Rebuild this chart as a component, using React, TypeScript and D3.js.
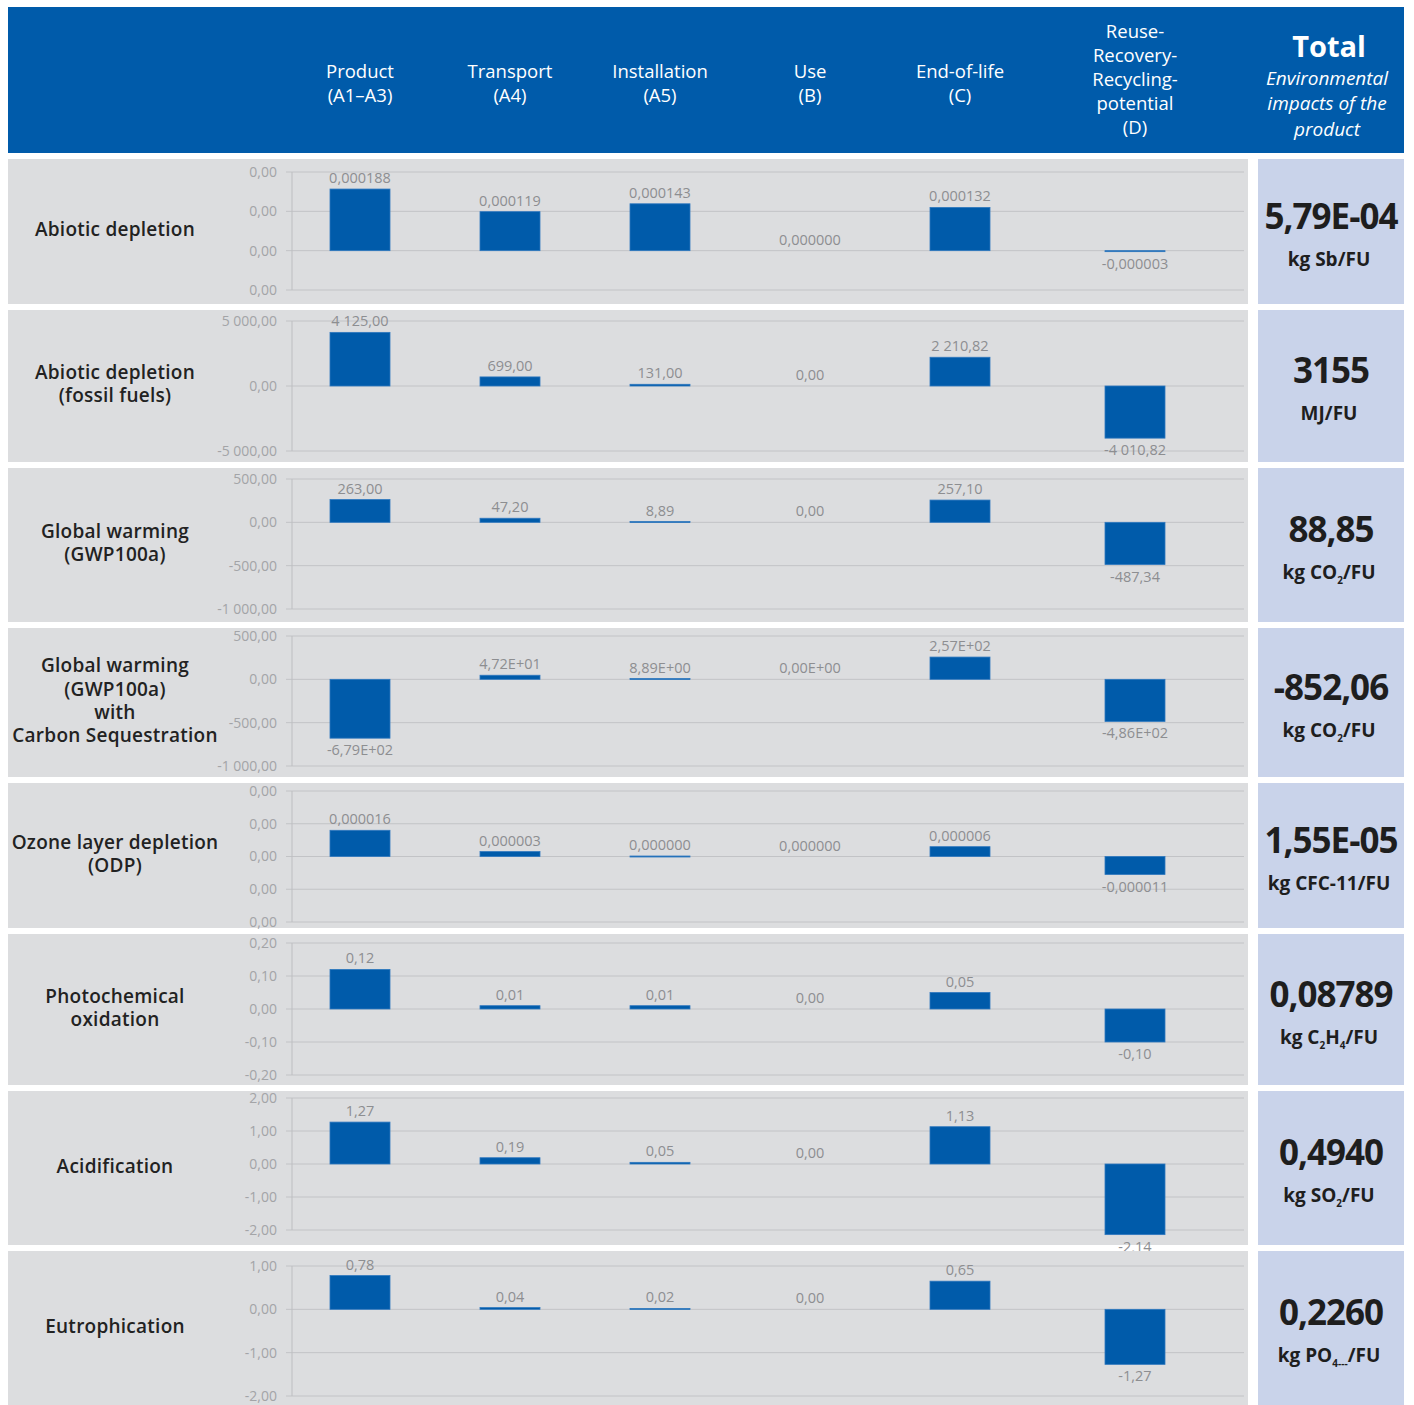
import React from "react";
import * as d3 from "d3";

// stages (columns) and impact indicators (rows)
const stageHeaders = [
  ["Product", "(A1–A3)"],
  ["Transport", "(A4)"],
  ["Installation", "(A5)"],
  ["Use", "(B)"],
  ["End-of-life", "(C)"],
  ["Reuse-", "Recovery-", "Recycling-", "potential", "(D)"],
];
const indicators = [
  ["Abiotic depletion"],
  ["Abiotic depletion", "(fossil fuels)"],
  ["Global warming", "(GWP100a)"],
  ["Global warming", "(GWP100a)", "with", "Carbon Sequestration"],
  ["Ozone layer depletion", "(ODP)"],
  ["Photochemical", "oxidation"],
  ["Acidification"],
  ["Eutrophication"],
];

const abioticValues = [0.000188, 0.000119, 0.000143, 0, 0.000132, -0.000003];
const fossilValues = [4125, 699, 131, 0, 2210.82, -4010.82];
const gwpValues = [263, 47.2, 8.89, 0, 257.1, -487.34];
const gwpSeqValues = [-679, 47.2, 8.89, 0, 257, -486];
const odpValues = [0.000016, 0.000003, 0.0000003, 0, 0.000006, -0.000011];
const pocpValues = [0.12, 0.01, 0.01, 0, 0.05, -0.1];
const apValues = [1.27, 0.19, 0.05, 0, 1.13, -2.14];
const epValues = [0.78, 0.04, 0.02, 0, 0.65, -1.27];

const abioticTicks = [0.00024, 0.00012, 0, -0.00012];
const fossilTicks = [5000, 0, -5000];
const gwpTicks = [500, 0, -500, -1000];
const gwpSeqTicks = [500, 0, -500, -1000];
const odpTicks = [0.00004, 0.00002, 0, -0.00002, -0.00004];
const pocpTicks = [0.2, 0.1, 0, -0.1, -0.2];
const apTicks = [2, 1, 0, -1, -2];
const epTicks = [1, 0, -1, -2];

const labelKinds = ["fixed6", "fixed2", "fixed2", "exp", "fixed6", "fixed2", "fixed2", "fixed2"];

const totals = ["5,79E-04", "3155", "88,85", "-852,06", "1,55E-05", "0,08789", "0,4940", "0,2260"];
// unit pieces: [text, subscript]
const units = [
  [["kg Sb/FU", ""]],
  [["MJ/FU", ""]],
  [["kg CO", "2"], ["/FU", ""]],
  [["kg CO", "2"], ["/FU", ""]],
  [["kg CFC-11/FU", ""]],
  [["kg C", "2"], ["H", "4"], ["/FU", ""]],
  [["kg SO", "2"], ["/FU", ""]],
  [["kg PO", "4---"], ["/FU", ""]],
];

const rowValues = [abioticValues, fossilValues, gwpValues, gwpSeqValues, odpValues, pocpValues, apValues, epValues];
const rowTicks = [abioticTicks, fossilTicks, gwpTicks, gwpSeqTicks, odpTicks, pocpTicks, apTicks, epTicks];

// layout
const rowTop = [159, 310, 468, 628, 783, 934, 1091, 1251];
const rowBottom = [304, 462, 622, 777, 928, 1085, 1245, 1405];
const axisTop = [172, 321, 479, 636, 791, 943, 1098, 1266];
const axisBottom = [290, 451, 609, 766, 922, 1075, 1230, 1396];
const colWeights = [1, 1, 1, 1, 1, 4 / 3];

const BLUE = "#005BAA";
const FONT = "'Open Sans', 'Noto Sans', sans-serif";

const locale = d3.formatLocale({
  decimal: ",",
  thousands: " ",
  grouping: [3],
  currency: ["", ""],
  minus: "-",
});
const f2 = locale.format(",.2f");
const f6 = locale.format(".6f");
const fexp = (v: number) => {
  const [m, e] = v.toExponential(2).split("e");
  const n = Math.abs(+e);
  return m.replace(".", ",") + "E" + (+e < 0 ? "-" : "+") + String(n).padStart(2, "0");
};
const fmt = (kind: string, v: number) => (kind === "fixed6" ? f6(v) : kind === "exp" ? fexp(v) : f2(v));

export default function App() {
  const cum = d3.cumsum(colWeights);
  const x = d3.scaleLinear().domain([0, cum[cum.length - 1]]).range([285, 1235]);
  const centers = colWeights.map((w, i) => x(cum[i] - w / 2));
  const barW = x(0.4) - x(0);

  return (
    <svg
      width={1414}
      height={1405}
      style={{ position: "absolute", left: 0, top: 0, fontFamily: FONT }}
    >
      <rect width={1414} height={1405} fill="#fff" />
      {/* header */}
      <rect x={8} y={7} width={1396} height={146} fill={BLUE} />
      {stageHeaders.map((lines, i) => {
        const lh = 24;
        const mid = lines.length > 2 ? 80 : 84;
        const y0 = mid - ((lines.length - 1) * lh) / 2;
        return lines.map((l, j) => (
          <text
            key={i + "-" + j}
            x={centers[i]}
            y={y0 + j * lh}
            dy="0.35em"
            textAnchor="middle"
            fill="#fff"
            fontSize={18.5}
          >
            {l}
          </text>
        ));
      })}
      <text x={1329} y={47} dy="0.35em" textAnchor="middle" fill="#fff" fontSize={29} fontWeight={700}>
        Total
      </text>
      {["Environmental", "impacts of the", "product"].map((l, j) => (
        <text
          key={j}
          x={1327}
          y={78 + j * 25.5}
          dy="0.35em"
          textAnchor="middle"
          fill="#fff"
          fontSize={19}
          fontStyle="italic"
        >
          {l}
        </text>
      ))}

      {rowValues.map((vals, r) => {
        const ticks = rowTicks[r];
        const y = d3
          .scaleLinear()
          .domain([d3.min(ticks) as number, d3.max(ticks) as number])
          .range([axisBottom[r], axisTop[r]]);
        const mid = (rowTop[r] + rowBottom[r]) / 2;
        const titleLines = indicators[r];
        const lh = 23.3;
        const ty0 = mid - 2 - ((titleLines.length - 1) * lh) / 2;
        return (
          <g key={r}>
            <rect x={8} y={rowTop[r]} width={1240} height={rowBottom[r] - rowTop[r]} fill="#dcdddf" />
            <rect x={1258} y={rowTop[r]} width={146} height={rowBottom[r] - rowTop[r]} fill="#c9d3ea" />
            {titleLines.map((l, j) => (
              <text
                key={j}
                x={115}
                y={ty0 + j * lh}
                dy="0.35em"
                textAnchor="middle"
                fill="#222"
                fontSize={19}
                letterSpacing={0.25}
                fontWeight={600}
              >
                {l}
              </text>
            ))}
            {ticks.map((t, j) => (
              <g key={j}>
                <line x1={286} x2={1244} y1={y(t)} y2={y(t)} stroke="#c2c3c6" strokeWidth={1} />
                <text x={277} y={y(t)} dy="0.35em" textAnchor="end" fontSize={14} fill="#a3a4a7">
                  {f2(t)}
                </text>
              </g>
            ))}
            <line x1={292} x2={292} y1={axisTop[r]} y2={axisBottom[r]} stroke="#bdbec1" />
            {vals.map((v, i) => {
              const y0 = y(0);
              const yv = y(v);
              const top = Math.min(y0, yv);
              const h = Math.abs(yv - y0);
              const ly = v < 0 ? y0 + h + 17 : top - 6;
              return (
                <g key={i}>
                  {h > 0.2 && (
                    <rect
                      x={centers[i] - barW / 2}
                      y={top}
                      width={barW}
                      height={Math.max(h, 1)}
                      fill={BLUE}
                      stroke="#2f78bf"
                      strokeWidth={0.8}
                    />
                  )}
                  <text x={centers[i]} y={ly} textAnchor="middle" fontSize={14.5} fill="#8d8e91">
                    {fmt(labelKinds[r], v)}
                  </text>
                </g>
              );
            })}
            <text
              x={1331}
              y={mid - 15}
              dy="0.35em"
              textAnchor="middle"
              fontSize={35}
              fontWeight={700}
              letterSpacing={-1}
              fill="#1e1e1e"
            >
              {totals[r]}
            </text>
            <text x={1329} y={mid + 34} textAnchor="middle" fontSize={19} fontWeight={700} fill="#1e1e1e">
              {units[r].flatMap(([t, s], j) => {
                const prevSub = j > 0 && units[r][j - 1][1] !== "";
                const parts = [
                  <tspan key={j + "t"} dy={prevSub ? -5 : 0}>
                    {t}
                  </tspan>,
                ];
                if (s)
                  parts.push(
                    <tspan key={j + "s"} fontSize={10} dy={5}>
                      {s}
                    </tspan>
                  );
                return parts;
              })}
            </text>
          </g>
        );
      })}
    </svg>
  );
}
